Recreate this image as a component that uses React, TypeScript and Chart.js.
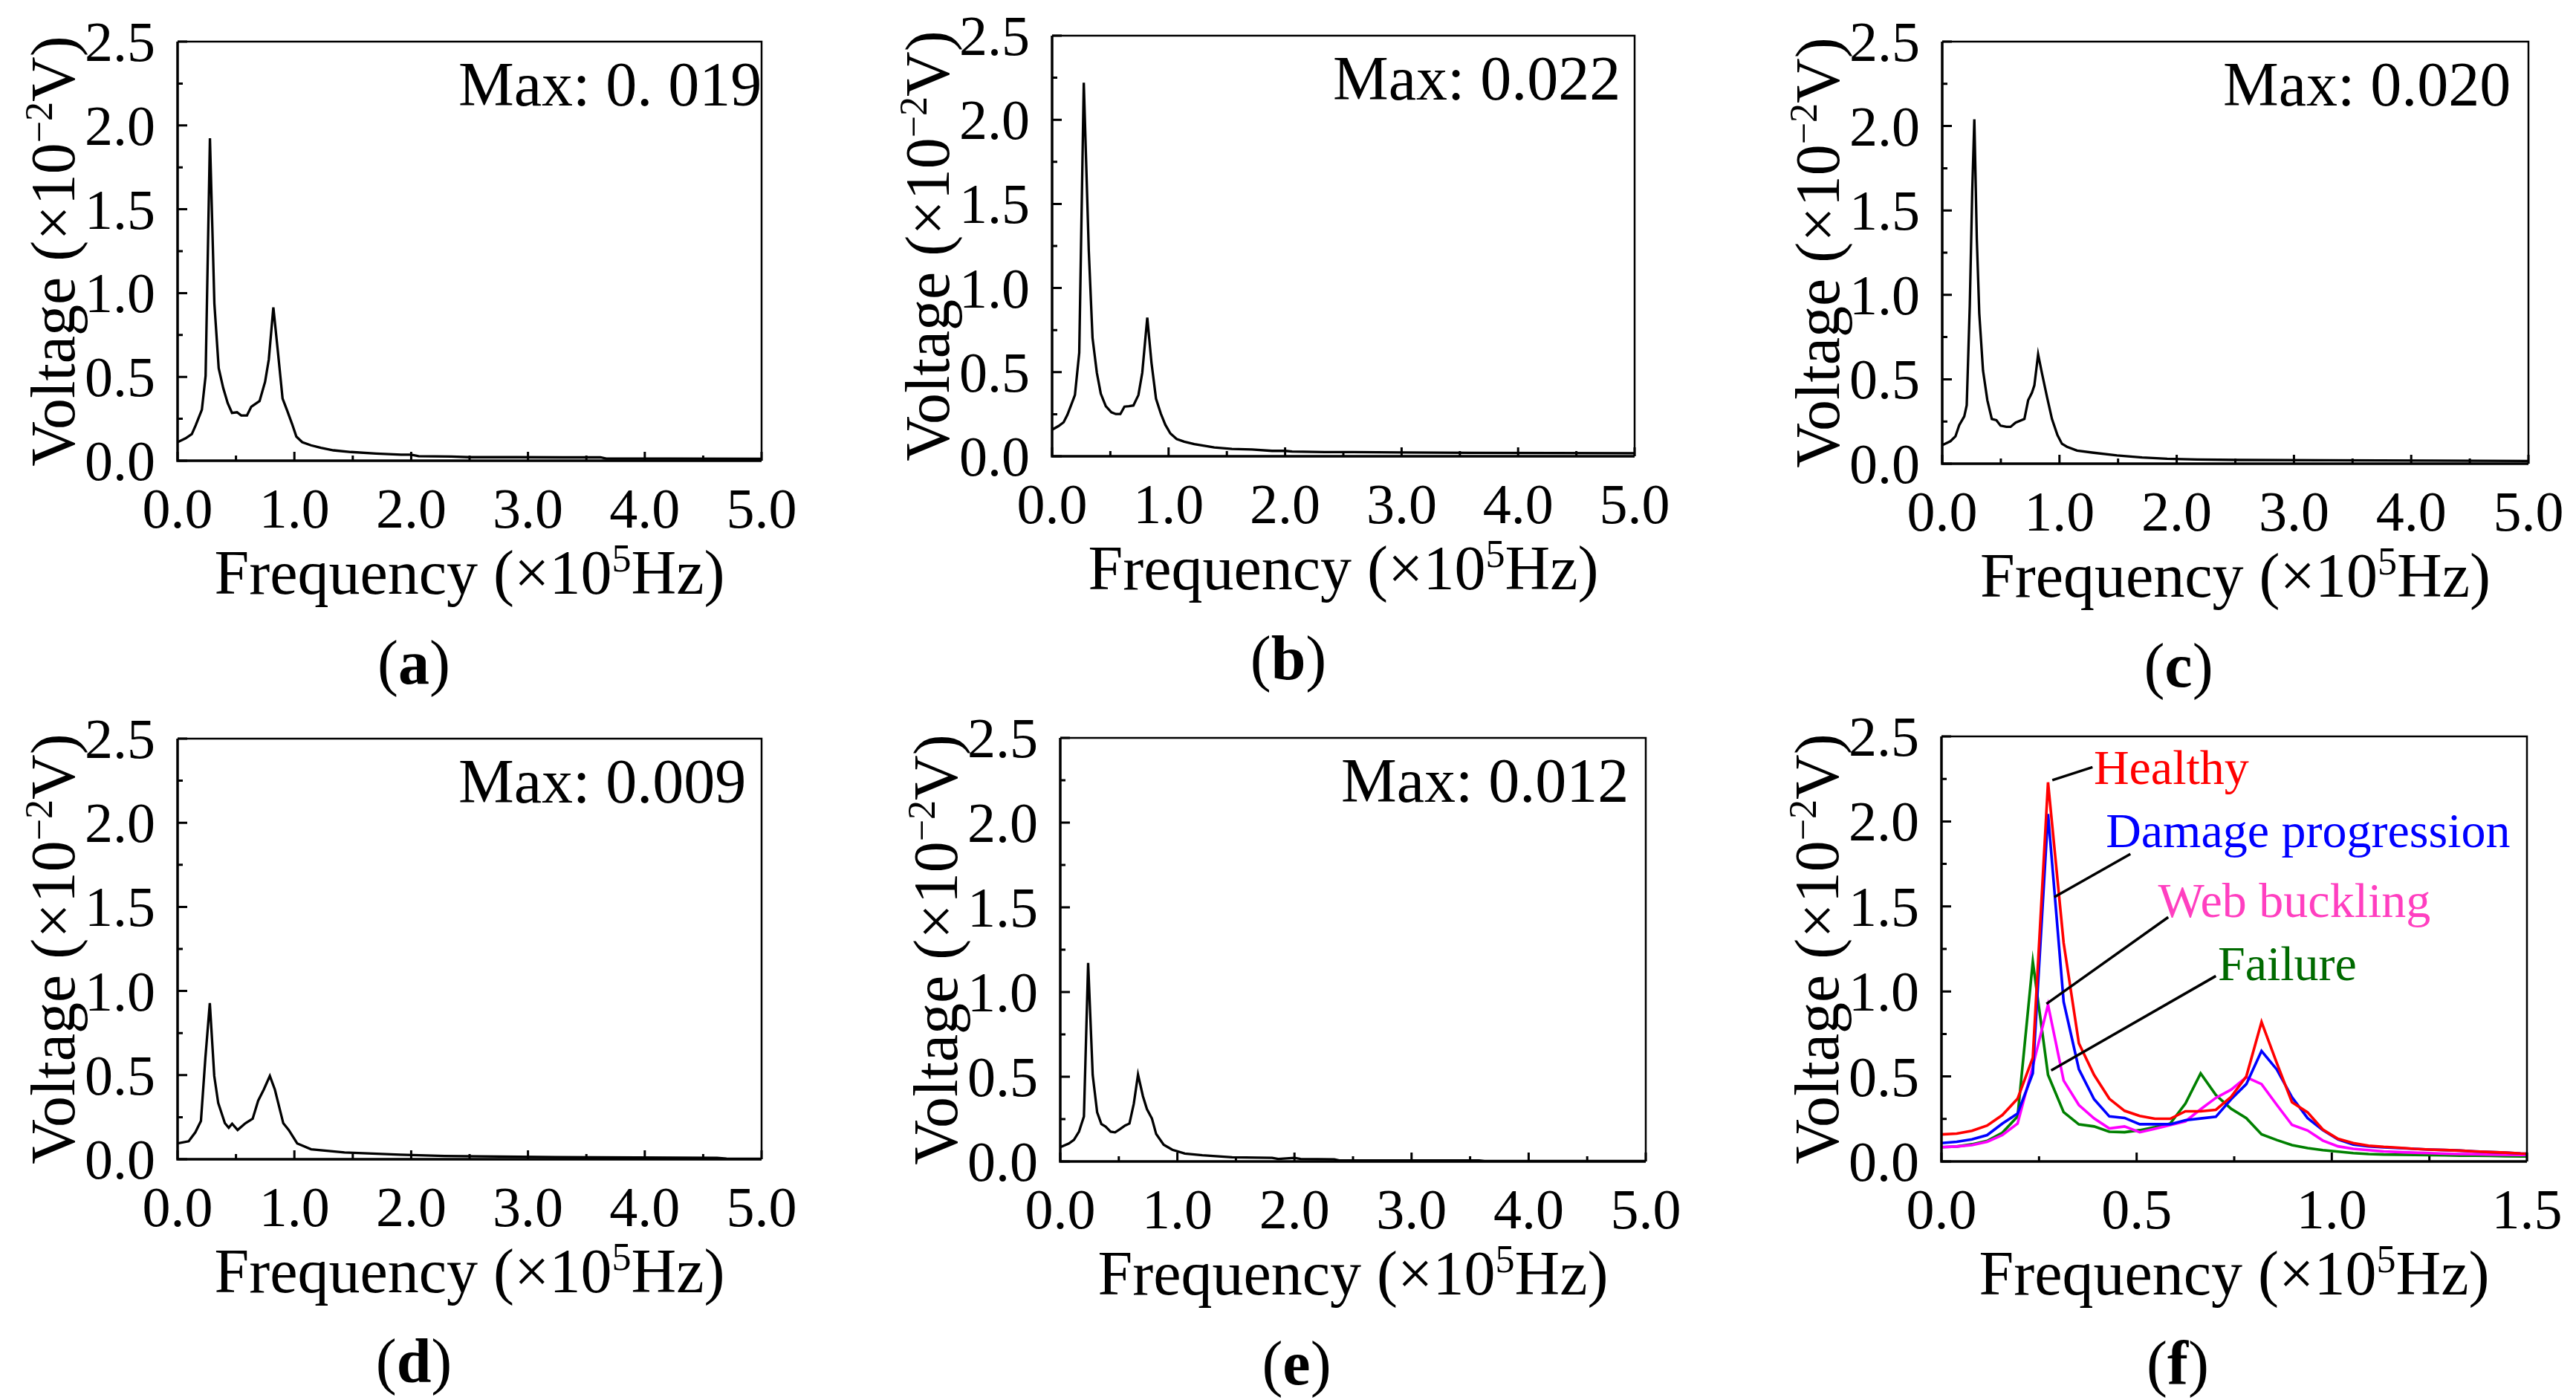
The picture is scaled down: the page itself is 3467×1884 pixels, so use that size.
import { useEffect, useRef } from "react";
import { Chart, registerables } from "chart.js";

Chart.register(...registerables);

const FONT = '"Liberation Serif", "Times New Roman", serif';

// ---- data (frequency in x10^5 Hz, voltage in x10^-2 V) ----
const freqA = [0, 0.069, 0.122, 0.155, 0.208, 0.24, 0.277, 0.315, 0.352, 0.391, 0.429, 0.466, 0.509, 0.545, 0.594, 0.631, 0.67, 0.702, 0.749, 0.781, 0.82, 0.858, 0.899, 0.938, 0.981, 1.017, 1.067, 1.142, 1.227, 1.335, 1.485, 1.7, 1.914, 2.0, 2.064, 2.343, 2.494, 2.9, 3.3, 3.62, 3.67, 4.2, 5.0];
const voltA = [0.111, 0.134, 0.159, 0.211, 0.304, 0.507, 1.924, 0.938, 0.552, 0.433, 0.344, 0.285, 0.289, 0.27, 0.27, 0.322, 0.341, 0.356, 0.47, 0.604, 0.915, 0.656, 0.371, 0.3, 0.218, 0.144, 0.111, 0.092, 0.077, 0.062, 0.052, 0.043, 0.036, 0.036, 0.027, 0.025, 0.021, 0.021, 0.02, 0.02, 0.013, 0.013, 0.012];

const freqB = [0, 0.056, 0.099, 0.131, 0.164, 0.196, 0.233, 0.272, 0.315, 0.347, 0.384, 0.418, 0.461, 0.509, 0.547, 0.586, 0.621, 0.659, 0.698, 0.741, 0.774, 0.817, 0.853, 0.892, 0.933, 0.972, 1.015, 1.069, 1.134, 1.22, 1.392, 1.543, 1.716, 1.888, 2.0, 2.06, 2.34, 2.58, 3.0, 3.6, 4.3, 5.0];
const voltB = [0.158, 0.18, 0.202, 0.246, 0.305, 0.364, 0.615, 2.22, 1.22, 0.704, 0.497, 0.372, 0.298, 0.261, 0.251, 0.251, 0.295, 0.298, 0.302, 0.364, 0.497, 0.824, 0.556, 0.342, 0.254, 0.187, 0.136, 0.103, 0.087, 0.072, 0.052, 0.044, 0.04, 0.032, 0.032, 0.028, 0.025, 0.025, 0.023, 0.02, 0.019, 0.018];

const freqC = [0, 0.07, 0.113, 0.145, 0.188, 0.209, 0.235, 0.256, 0.274, 0.295, 0.316, 0.348, 0.385, 0.423, 0.462, 0.498, 0.547, 0.583, 0.626, 0.701, 0.733, 0.765, 0.786, 0.818, 0.85, 0.893, 0.936, 0.983, 1.021, 1.064, 1.15, 1.278, 1.491, 1.705, 1.919, 2.175, 2.538, 3.26, 4.2, 5.0];
const voltC = [0.11, 0.133, 0.162, 0.228, 0.28, 0.346, 0.935, 1.613, 2.04, 1.333, 0.891, 0.552, 0.376, 0.265, 0.258, 0.225, 0.218, 0.218, 0.243, 0.265, 0.376, 0.42, 0.464, 0.648, 0.538, 0.398, 0.265, 0.169, 0.118, 0.1, 0.078, 0.066, 0.049, 0.037, 0.029, 0.025, 0.022, 0.02, 0.018, 0.016];

const freqD = [0, 0.095, 0.152, 0.2, 0.238, 0.276, 0.314, 0.348, 0.405, 0.438, 0.467, 0.514, 0.581, 0.643, 0.69, 0.738, 0.79, 0.833, 0.905, 0.952, 1.024, 1.143, 1.429, 1.905, 2.286, 3.238, 4.619, 4.7, 5.0];
const voltD = [0.094, 0.107, 0.16, 0.227, 0.602, 0.928, 0.495, 0.334, 0.214, 0.187, 0.211, 0.174, 0.214, 0.241, 0.348, 0.414, 0.495, 0.414, 0.214, 0.174, 0.094, 0.059, 0.04, 0.027, 0.019, 0.013, 0.008, 0.004, 0.003];

const freqE = [0, 0.074, 0.117, 0.16, 0.202, 0.238, 0.277, 0.315, 0.351, 0.387, 0.43, 0.468, 0.511, 0.553, 0.591, 0.628, 0.664, 0.706, 0.74, 0.783, 0.819, 0.883, 0.957, 1.064, 1.213, 1.468, 1.809, 1.862, 2.0, 2.053, 2.34, 2.383, 3.0, 3.576, 3.623, 5.0];
const voltE = [0.084, 0.106, 0.128, 0.176, 0.265, 1.172, 0.51, 0.29, 0.221, 0.206, 0.176, 0.172, 0.191, 0.212, 0.224, 0.341, 0.513, 0.385, 0.309, 0.253, 0.162, 0.099, 0.069, 0.047, 0.037, 0.025, 0.021, 0.015, 0.021, 0.015, 0.013, 0.006, 0.006, 0.006, 0.003, 0.003];

const freqF = [0, 0.039, 0.078, 0.117, 0.156, 0.195, 0.234, 0.273, 0.313, 0.352, 0.391, 0.43, 0.469, 0.508, 0.547, 0.586, 0.625, 0.664, 0.703, 0.742, 0.781, 0.82, 0.859, 0.898, 0.938, 0.977, 1.016, 1.055, 1.094, 1.133, 1.172, 1.211, 1.25, 1.289, 1.328, 1.367, 1.406, 1.445, 1.484, 1.523];
const healthy = [0.159, 0.164, 0.18, 0.211, 0.273, 0.369, 0.61, 2.23, 1.285, 0.695, 0.509, 0.369, 0.298, 0.268, 0.251, 0.251, 0.295, 0.295, 0.304, 0.38, 0.5, 0.82, 0.58, 0.348, 0.289, 0.188, 0.133, 0.108, 0.093, 0.086, 0.081, 0.074, 0.07, 0.067, 0.064, 0.059, 0.055, 0.052, 0.047, 0.045];
const damage = [0.108, 0.116, 0.13, 0.155, 0.223, 0.282, 0.518, 2.044, 0.939, 0.543, 0.366, 0.265, 0.256, 0.219, 0.219, 0.219, 0.243, 0.253, 0.263, 0.366, 0.455, 0.65, 0.541, 0.378, 0.255, 0.185, 0.129, 0.099, 0.089, 0.083, 0.079, 0.074, 0.07, 0.067, 0.064, 0.059, 0.055, 0.052, 0.047, 0.045];
const buckling = [0.084, 0.088, 0.096, 0.116, 0.155, 0.223, 0.56, 0.922, 0.476, 0.332, 0.253, 0.194, 0.206, 0.172, 0.192, 0.214, 0.236, 0.307, 0.374, 0.422, 0.496, 0.455, 0.333, 0.215, 0.182, 0.123, 0.089, 0.074, 0.067, 0.059, 0.055, 0.052, 0.049, 0.046, 0.044, 0.043, 0.041, 0.04, 0.039, 0.038];
const failure = [0.084, 0.088, 0.101, 0.121, 0.169, 0.265, 1.175, 0.509, 0.29, 0.218, 0.206, 0.175, 0.172, 0.184, 0.202, 0.223, 0.341, 0.518, 0.391, 0.31, 0.255, 0.16, 0.126, 0.096, 0.079, 0.067, 0.058, 0.049, 0.044, 0.041, 0.04, 0.039, 0.037, 0.036, 0.034, 0.034, 0.033, 0.031, 0.03, 0.03];

// ---- ticks / labels ----
const yMajor = [0, 0.5, 1.0, 1.5, 2.0, 2.5];
const yMajorLabels = ["0.0", "0.5", "1.0", "1.5", "2.0", "2.5"];
const yMinor = [0.25, 0.75, 1.25, 1.75, 2.25];
const xMajorWide = [0, 1, 2, 3, 4, 5];
const xMajorWideLabels = ["0.0", "1.0", "2.0", "3.0", "4.0", "5.0"];
const xMinorWide = [0.5, 1.5, 2.5, 3.5, 4.5];
const xMajorF = [0, 0.5, 1.0, 1.5];
const xMajorFLabels = ["0.0", "0.5", "1.0", "1.5"];
const xMinorF = [0.25, 0.75, 1.25];
const maxLabels = ["Max: 0. 019", "Max: 0.022", "Max: 0.020", "Max: 0.009", "Max: 0.012"];
const captionLetters = ["a", "b", "c", "d", "e", "f"];
const seriesNamesF = ["Healthy", "Damage progression", "Web buckling", "Failure"];

type Seg = { t: string; sup?: boolean; bold?: boolean };
type Box = { x: number; y: number; w: number; h: number };
type Plot = { l: number; t: number; r: number; b: number };

const TICK_FS = 76;
const TITLE_FS = 84;
const NOTE_FS = 66;

const lineColorsF = ["#ff0000", "#0000ff", "#ff00ff", "#008000"];
const textColorsF = ["#ff0000", "#0000ff", "#ff3fc0", "#006a00"];
// leader lines for panel (f), in data units: [x0, y0, x1, y1, textX, textBaseline]
const notesF = [
  [0.284, 2.243, 0.387, 2.319, 0.39, 2.22],
  [0.289, 1.555, 0.484, 1.808, 0.421, 1.85],
  [0.269, 0.927, 0.581, 1.437, 0.555, 1.437],
  [0.281, 0.535, 0.703, 1.091, 0.708, 1.066],
];

function segFont(s: Seg, size: number) {
  const sz = s.sup ? size * 0.62 : size;
  return `${s.bold ? "bold " : ""}${sz}px ${FONT}`;
}

function drawRich(ctx: CanvasRenderingContext2D, segs: Seg[], x: number, y: number, size: number, align: string) {
  const widths = segs.map((s) => {
    ctx.font = segFont(s, size);
    return ctx.measureText(s.t).width;
  });
  const total = widths.reduce((a, b) => a + b, 0);
  let cx = align === "center" ? x - total / 2 : align === "right" ? x - total : x;
  ctx.textAlign = "left";
  ctx.textBaseline = "alphabetic";
  segs.forEach((s, i) => {
    ctx.font = segFont(s, size);
    ctx.fillText(s.t, cx, s.sup ? y - size * 0.36 : y);
    cx += widths[i];
  });
}

type PanelCfg = {
  cell: Box;
  plot: Plot;
  xMax: number;
  xMajor: number[];
  xMajorLabels: string[];
  xMinor: number[];
  series: { x: number[]; y: number[]; color: string; width: number }[];
  maxLabel?: string;
  letter: string;
  notes?: boolean;
};

function framePlugin(cfg: PanelCfg) {
  return {
    id: "frame" + cfg.letter,
    afterDraw(chart: any) {
      const ctx: CanvasRenderingContext2D = chart.ctx;
      const { left, right, top, bottom } = chart.chartArea;
      const xs = chart.scales.x;
      const ys = chart.scales.y;
      ctx.save();
      ctx.fillStyle = "#000";
      ctx.strokeStyle = "#000";

      // box
      ctx.lineWidth = 2.5;
      ctx.beginPath();
      ctx.moveTo(left, top);
      ctx.lineTo(right, top);
      ctx.lineTo(right, bottom);
      ctx.stroke();
      ctx.lineWidth = 3.5;
      ctx.beginPath();
      ctx.moveTo(left, top);
      ctx.lineTo(left, bottom);
      ctx.lineTo(right, bottom);
      ctx.stroke();

      // inside ticks
      ctx.lineWidth = 3;
      ctx.beginPath();
      yMajor.forEach((v) => {
        const py = ys.getPixelForValue(v);
        ctx.moveTo(left, py);
        ctx.lineTo(left + 13, py);
      });
      yMinor.forEach((v) => {
        const py = ys.getPixelForValue(v);
        ctx.moveTo(left, py);
        ctx.lineTo(left + 7, py);
      });
      cfg.xMajor.forEach((v) => {
        const px = xs.getPixelForValue(v);
        ctx.moveTo(px, bottom);
        ctx.lineTo(px, bottom - 12);
      });
      cfg.xMinor.forEach((v) => {
        const px = xs.getPixelForValue(v);
        ctx.moveTo(px, bottom);
        ctx.lineTo(px, bottom - 7);
      });
      ctx.stroke();

      // tick labels
      ctx.font = `${TICK_FS}px ${FONT}`;
      ctx.textBaseline = "alphabetic";
      ctx.textAlign = "right";
      yMajor.forEach((v, i) => {
        ctx.fillText(yMajorLabels[i], left - 30, ys.getPixelForValue(v) + 26);
      });
      ctx.textAlign = "center";
      cfg.xMajor.forEach((v, i) => {
        ctx.fillText(cfg.xMajorLabels[i], xs.getPixelForValue(v), bottom + 90);
      });

      // axis titles
      drawRich(ctx, [{ t: "Frequency (×10" }, { t: "5", sup: true }, { t: "Hz)" }], (left + right) / 2, bottom + 179, TITLE_FS, "center");
      ctx.save();
      ctx.translate(left - 139, (top + bottom) / 2);
      ctx.rotate(-Math.PI / 2);
      drawRich(ctx, [{ t: "Voltage (×10" }, { t: "−2", sup: true }, { t: "V)" }], 0, 0, TITLE_FS, "center");
      ctx.restore();

      // max annotation
      if (cfg.maxLabel) {
        ctx.font = `${TITLE_FS}px ${FONT}`;
        ctx.textAlign = "left";
        ctx.fillText(cfg.maxLabel, left + 378, top + 86);
      }

      // caption
      drawRich(ctx, [{ t: "(" }, { t: cfg.letter, bold: true }, { t: ")" }], left + 318, bottom + 300, TITLE_FS, "center");

      // leader lines for (f)
      if (cfg.notes) {
        notesF.forEach((n, i) => {
          ctx.strokeStyle = "#000";
          ctx.lineWidth = 3.5;
          ctx.beginPath();
          ctx.moveTo(xs.getPixelForValue(n[0]), ys.getPixelForValue(n[1]));
          ctx.lineTo(xs.getPixelForValue(n[2]), ys.getPixelForValue(n[3]));
          ctx.stroke();
          ctx.fillStyle = textColorsF[i];
          ctx.font = `${NOTE_FS}px ${FONT}`;
          ctx.textAlign = "left";
          ctx.fillText(seriesNamesF[i], xs.getPixelForValue(n[4]), ys.getPixelForValue(n[5]));
        });
      }
      ctx.restore();
    },
  };
}

const COLS = [0, 1160, 2330, 3467];
const ROWS = [0, 942, 1884];
const cellAt = (c: number, r: number): Box => ({ x: COLS[c], y: ROWS[r], w: COLS[c + 1] - COLS[c], h: ROWS[r + 1] - ROWS[r] });

const wide = (x: number[], y: number[]) => [{ x, y, color: "#000", width: 3.3 }];

const panels: PanelCfg[] = [
  { cell: cellAt(0, 0), plot: { l: 239, t: 56, r: 1025, b: 620 }, xMax: 5, xMajor: xMajorWide, xMajorLabels: xMajorWideLabels, xMinor: xMinorWide, series: wide(freqA, voltA), maxLabel: maxLabels[0], letter: captionLetters[0] },
  { cell: cellAt(1, 0), plot: { l: 1416, t: 48, r: 2200, b: 614 }, xMax: 5, xMajor: xMajorWide, xMajorLabels: xMajorWideLabels, xMinor: xMinorWide, series: wide(freqB, voltB), maxLabel: maxLabels[1], letter: captionLetters[1] },
  { cell: cellAt(2, 0), plot: { l: 2614, t: 56, r: 3403, b: 624 }, xMax: 5, xMajor: xMajorWide, xMajorLabels: xMajorWideLabels, xMinor: xMinorWide, series: wide(freqC, voltC), maxLabel: maxLabels[2], letter: captionLetters[2] },
  { cell: cellAt(0, 1), plot: { l: 239, t: 994, r: 1025, b: 1560 }, xMax: 5, xMajor: xMajorWide, xMajorLabels: xMajorWideLabels, xMinor: xMinorWide, series: wide(freqD, voltD), maxLabel: maxLabels[3], letter: captionLetters[3] },
  { cell: cellAt(1, 1), plot: { l: 1427, t: 993, r: 2215, b: 1563 }, xMax: 5, xMajor: xMajorWide, xMajorLabels: xMajorWideLabels, xMinor: xMinorWide, series: wide(freqE, voltE), maxLabel: maxLabels[4], letter: captionLetters[4] },
  {
    cell: cellAt(2, 1),
    plot: { l: 2613, t: 991, r: 3401, b: 1563 },
    xMax: 1.5,
    xMajor: xMajorF,
    xMajorLabels: xMajorFLabels,
    xMinor: xMinorF,
    series: [healthy, damage, buckling, failure].map((y, i) => ({ x: freqF, y, color: lineColorsF[i], width: 3.6 })),
    letter: captionLetters[5],
    notes: true,
  },
];

function Panel({ cfg }: { cfg: PanelCfg }) {
  const ref = useRef<HTMLCanvasElement>(null);
  useEffect(() => {
    const { cell, plot } = cfg;
    const chart = new Chart(ref.current as HTMLCanvasElement, {
      type: "line",
      data: {
        datasets: cfg.series.map((s) => ({
          data: s.x.map((x, i) => ({ x, y: s.y[i] })),
          borderColor: s.color,
          borderWidth: s.width,
          pointRadius: 0,
          tension: 0,
          fill: false,
        })),
      },
      options: {
        responsive: false,
        animation: false,
        devicePixelRatio: 1,
        layout: {
          padding: { left: 0, top: plot.t - cell.y, right: cell.x + cell.w - plot.r, bottom: 0 },
        },
        plugins: { legend: { display: false }, tooltip: { enabled: false } },
        scales: {
          x: {
            type: "linear",
            min: 0,
            max: cfg.xMax,
            grid: { display: false },
            border: { display: false },
            ticks: { display: false },
            afterFit: (s: any) => {
              s.height = cell.y + cell.h - plot.b;
            },
          },
          y: {
            min: 0,
            max: 2.5,
            grid: { display: false },
            border: { display: false },
            ticks: { display: false },
            afterFit: (s: any) => {
              s.width = plot.l - cell.x;
            },
          },
        },
      },
      plugins: [framePlugin(cfg)],
    });
    return () => chart.destroy();
  }, [cfg]);
  return (
    <canvas
      ref={ref}
      width={cfg.cell.w}
      height={cfg.cell.h}
      style={{ position: "absolute", left: cfg.cell.x, top: cfg.cell.y, width: cfg.cell.w, height: cfg.cell.h }}
    />
  );
}

export default function App() {
  return (
    <div style={{ position: "absolute", left: 0, top: 0, width: 3467, height: 1884, background: "#fff" }}>
      {panels.map((p) => (
        <Panel key={p.letter} cfg={p} />
      ))}
    </div>
  );
}
